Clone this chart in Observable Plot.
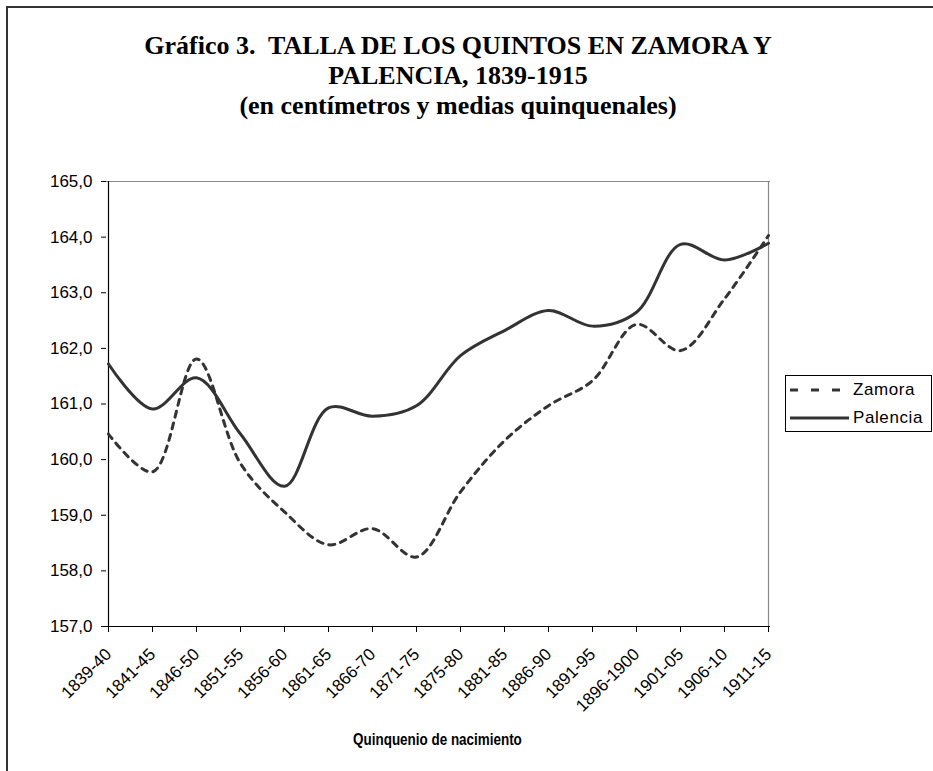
<!DOCTYPE html>
<html>
<head>
<meta charset="utf-8">
<script src="https://cdn.jsdelivr.net/npm/d3@7"></script>
<script src="https://cdn.jsdelivr.net/npm/@observablehq/plot@0.6"></script>
<style>
  html, body { margin: 0; padding: 0; background: #fff; }
  #wrap { position: relative; width: 933px; height: 771px; overflow: hidden; background: #fff; }
  #frame { position: absolute; left: 6px; top: 6px; width: 2000px; height: 2000px; border-left: 2px solid #333; border-top: 2px solid #333; }
  #title { position: absolute; left: 0; top: 31px; width: 916px; text-align: center; font-family: "Liberation Serif", "Times New Roman", serif; font-weight: bold; font-size: 26px; line-height: 30px; color: #000; }
  #plot { position: absolute; left: 0; top: 0; }
  #xtitle { position: absolute; left: 0; top: 731px; width: 874px; text-align: center; font-family: "Liberation Sans", Arial, sans-serif; font-weight: bold; font-size: 16px; color: #000; }
  #xtitle span { display: inline-block; transform: scaleX(0.84); }
  #legend { position: absolute; left: 785px; top: 375px; width: 147px; height: 57px; border: 1px solid #000; box-sizing: border-box; font-family: "Liberation Sans", Arial, sans-serif; font-size: 17px; letter-spacing: 0.6px; color: #000; }
  .lrow { position: absolute; left: 3px; height: 22px; display: flex; align-items: center; }
  .lrow svg { display: block; }
  .lrow span { margin-left: 4px; }
</style>
</head>
<body>
<div id="wrap">
  <div id="frame"></div>
  <div id="title">Gráfico 3.&nbsp; TALLA DE LOS QUINTOS EN ZAMORA Y<br>PALENCIA, 1839-1915<br>(en centímetros y medias quinquenales)</div>
  <div id="plot"></div>
  <div id="xtitle"><span>Quinquenio de nacimiento</span></div>
  <div id="legend">
    <div class="lrow" style="top:3px"><svg width="60" height="6"><line x1="1" y1="3" x2="60" y2="3" stroke="#333" stroke-width="3" stroke-dasharray="8,13"/></svg><span>Zamora</span></div>
    <div class="lrow" style="top:31px"><svg width="60" height="6"><line x1="1" y1="3" x2="60" y2="3" stroke="#333" stroke-width="3"/></svg><span>Palencia</span></div>
  </div>
</div>
<script>
const quinquenios = ["1839-40","1841-45","1846-50","1851-55","1856-60","1861-65","1866-70","1871-75","1875-80","1881-85","1886-90","1891-95","1896-1900","1901-05","1906-10","1911-15"];
const zamora   = [160.46,159.78,161.81,159.93,159.06,158.47,158.76,158.25,159.42,160.34,160.97,161.42,162.43,161.96,162.89,164.03];
const palencia = [161.72,160.91,161.47,160.46,159.52,160.93,160.78,160.97,161.87,162.32,162.68,162.40,162.65,163.87,163.59,163.89];
const yTicks = [157,158,159,160,161,162,163,164,165];

const rows = [];
quinquenios.forEach((q, i) => {
  rows.push({q, serie: "Zamora", v: zamora[i]});
  rows.push({q, serie: "Palencia", v: palencia[i]});
});

const fmt = d => d.toFixed(1).replace(".", ",");

const chart = Plot.plot({
  width: 933,
  height: 771,
  marginLeft: 106,
  marginRight: 163,
  marginTop: 181,
  marginBottom: 145,
  style: {background: "transparent", fontFamily: "Liberation Sans, Arial, sans-serif", color: "#000", overflow: "visible"},
  x: {type: "point", domain: quinquenios, padding: 0},
  y: {domain: [157, 165]},
  marks: [
    Plot.ruleY([165], {stroke: "#888", strokeWidth: 1.2}),
    Plot.ruleX([quinquenios[quinquenios.length - 1]], {stroke: "#888", strokeWidth: 1.2}),
    Plot.axisY({ticks: yTicks, tickFormat: fmt, tickSize: 5, tickPadding: 9, fontSize: 17, label: null, stroke: "#000"}),
    Plot.axisX({tickSize: 6, tickRotate: -45, tickPadding: 19, fontSize: 17, label: null, stroke: "#000"}),
    Plot.ruleX([quinquenios[0]], {stroke: "#000", strokeWidth: 1.2}),
    Plot.ruleY([157], {stroke: "#000", strokeWidth: 1.2}),
    Plot.line(rows.filter(d => d.serie === "Zamora"), {x: "q", y: "v", curve: "catmull-rom", stroke: "#333", strokeWidth: 3, strokeDasharray: "6,6"}),
    Plot.line(rows.filter(d => d.serie === "Palencia"), {x: "q", y: "v", curve: "catmull-rom", stroke: "#333", strokeWidth: 3})
  ]
});
document.getElementById("plot").appendChild(chart);
</script>
</body>
</html>
